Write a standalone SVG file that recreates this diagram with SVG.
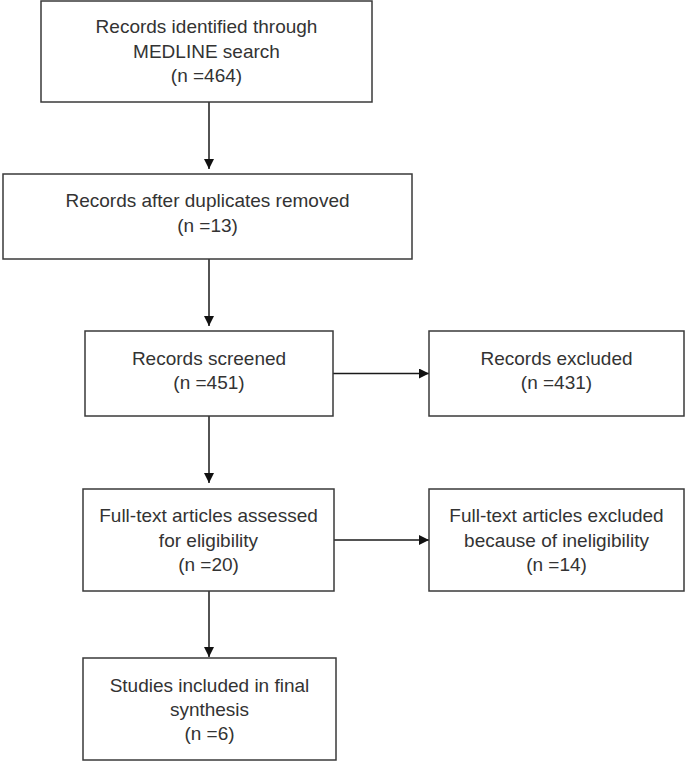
<svg xmlns="http://www.w3.org/2000/svg" width="685" height="762" viewBox="0 0 685 762">
<style>
.box{fill:#fff;stroke:#3a3a3a;stroke-width:1.5}
.t{font-family:"Liberation Sans",Arial,sans-serif;font-size:19px;fill:#333;text-anchor:middle}
.c{stroke:#1a1a1a;stroke-width:1.5;fill:none}
</style>
<defs>
<marker id="ah" markerWidth="10" markerHeight="10" refX="10" refY="5" orient="auto" markerUnits="userSpaceOnUse">
<path d="M0,0 L10,5 L0,10 Z" fill="#111"/>
</marker>
</defs>
<rect width="685" height="762" fill="#fff"/>
<g id="connectors">
<line class="c" x1="209" y1="102" x2="209" y2="169" marker-end="url(#ah)"/>
<line class="c" x1="209" y1="259" x2="209" y2="326" marker-end="url(#ah)"/>
<line class="c" x1="333" y1="373.5" x2="429" y2="373.5" marker-end="url(#ah)"/>
<line class="c" x1="209" y1="416" x2="209" y2="483" marker-end="url(#ah)"/>
<line class="c" x1="334" y1="540" x2="429" y2="540" marker-end="url(#ah)"/>
<line class="c" x1="209" y1="591" x2="209" y2="657" marker-end="url(#ah)"/>
</g>
<g id="n1">
<rect class="box" x="41" y="1" width="331" height="101"/>
<text class="t" x="206.5" y="33">Records identified through</text>
<text class="t" x="206.5" y="58">MEDLINE search</text>
<text class="t" x="206.5" y="82">(n =464)</text>
</g>
<g id="n2">
<rect class="box" x="3" y="174" width="409" height="85"/>
<text class="t" x="207.5" y="207">Records after duplicates removed</text>
<text class="t" x="207.5" y="231.5">(n =13)</text>
</g>
<g id="n3">
<rect class="box" x="85" y="331" width="248" height="85"/>
<text class="t" x="209" y="365">Records screened</text>
<text class="t" x="209" y="389">(n =451)</text>
</g>
<g id="n4">
<rect class="box" x="429" y="331" width="255" height="85"/>
<text class="t" x="556.5" y="365">Records excluded</text>
<text class="t" x="556.5" y="389">(n =431)</text>
</g>
<g id="n5">
<rect class="box" x="83" y="489" width="251" height="102"/>
<text class="t" x="208.5" y="522">Full-text articles assessed</text>
<text class="t" x="208.5" y="547">for eligibility</text>
<text class="t" x="208.5" y="571">(n =20)</text>
</g>
<g id="n6">
<rect class="box" x="429" y="489" width="255" height="102"/>
<text class="t" x="556.5" y="522">Full-text articles excluded</text>
<text class="t" x="556.5" y="547">because of ineligibility</text>
<text class="t" x="556.5" y="571">(n =14)</text>
</g>
<g id="n7">
<rect class="box" x="83" y="658" width="253" height="102"/>
<text class="t" x="209.5" y="692">Studies included in final</text>
<text class="t" x="209.5" y="716">synthesis</text>
<text class="t" x="209.5" y="740">(n =6)</text>
</g>
</svg>
